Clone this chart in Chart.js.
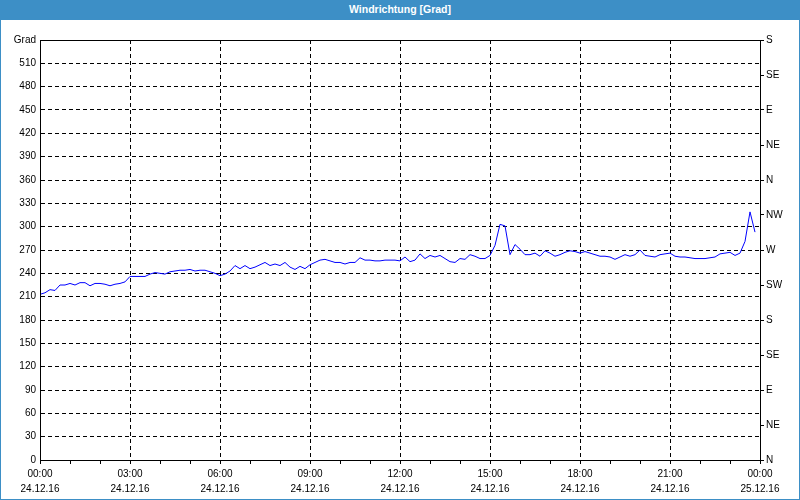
<!DOCTYPE html>
<html>
<head>
<meta charset="utf-8">
<script src="https://cdn.jsdelivr.net/npm/chart.js@4/dist/chart.umd.min.js"></script>
<style>
  html, body { margin: 0; padding: 0; background: #fff; }
  #wrap { position: relative; width: 800px; height: 500px; box-sizing: border-box;
          border: 1px solid #3d8fc6; border-top: none; }
  #title { position: absolute; left: -1px; top: 0; width: 800px; height: 20px; background: #3d8fc6;
           color: #fff; font: bold 10.5px "Liberation Sans", Arial, sans-serif; line-height: 18px; text-align: center; }
  canvas { position: absolute; left: -1px; top: 0; }
</style>
</head>
<body>
<div id="wrap">
  <canvas id="chart" width="800" height="500"></canvas>
  <div id="title">Windrichtung [Grad]</div>
</div>
<script>
// wind direction in degrees, one value every 10 minutes from 00:00 to 23:50
const stepMinutes = 10
const direction = [
  213, 215, 219, 218, 225, 225, 227, 225, 228, 228, 224, 227,
  227, 226, 224, 226, 227, 229, 236, 236, 236, 236, 239, 241,
  240, 239, 242, 243, 244, 244, 245, 243, 244, 244, 242, 240,
  237, 239, 243, 250, 246, 250, 246, 248, 251, 254, 250, 252,
  250, 254, 248, 245, 249, 246, 251, 254, 257, 258, 256, 254,
  254, 252, 254, 254, 260, 257, 257, 256, 256, 257, 257, 257,
  256, 261, 255, 257, 265, 259, 263, 261, 263, 259, 255, 254,
  259, 258, 264, 262, 259, 259, 263, 276, 303, 301, 264, 277,
  271, 264, 264, 266, 262, 269, 266, 262, 264, 267, 269, 268,
  266, 268, 266, 264, 262, 262, 261, 258, 261, 264, 262, 264,
  270, 263, 262, 261, 264, 265, 266, 262, 261, 261, 260, 259,
  259, 259, 260, 261, 265, 266, 267, 263, 266, 281, 319, 293
]

const timeLabels = ['00:00', '03:00', '06:00', '09:00', '12:00', '15:00', '18:00', '21:00', '00:00']
const dateLabels = ['24.12.16', '24.12.16', '24.12.16', '24.12.16', '24.12.16', '24.12.16', '24.12.16', '24.12.16', '25.12.16']
const compassLabels = ['N', 'NE', 'E', 'SE', 'S', 'SW', 'W', 'NW', 'N', 'NE', 'E', 'SE', 'S']

const points = direction.map((v, i) => ({ x: i * stepMinutes / 60, y: v }))

Chart.defaults.font.family = '"Liberation Sans", Arial, sans-serif'
Chart.defaults.font.size = 10
Chart.defaults.color = '#000'

const frame = {
  id: 'frame',
  afterDraw(chart) {
    const a = chart.chartArea
    const ctx = chart.ctx
    ctx.save()
    ctx.strokeStyle = '#000'
    ctx.lineWidth = 1
    ctx.strokeRect(a.left + 0.5, a.top + 0.5, a.right - a.left, a.bottom - a.top)
    ctx.restore()
  }
}

const canvasChart = document.getElementById('chart')

const myChart = new Chart(canvasChart, {
  type: 'line',
  data: {
    datasets: [{
      label: 'Windrichtung',
      data: points,
      borderColor: '#0000ff',
      borderWidth: 1,
      pointRadius: 0,
      tension: 0,
      yAxisID: 'y'
    }]
  },
  options: {
    responsive: false,
    animation: false,
    layout: { padding: { top: 40, left: 0, right: 0, bottom: 0 } },
    plugins: { legend: { display: false }, tooltip: { enabled: false } },
    scales: {
      x: {
        type: 'linear',
        min: 0,
        max: 24,
        afterFit(scale) { scale.height = 40 },
        border: { color: '#000', width: 1, dash: [4, 3] },
        grid: {
          color: c => (c.tick && c.tick.value % 3 === 0 && c.tick.value > 0 && c.tick.value < 24) ? '#000' : 'transparent',
          tickColor: '#000',
          tickLength: 4,
          tickBorderDash: []
        },
        ticks: {
          stepSize: 1,
          autoSkip: false,
          maxRotation: 0,
          padding: 2,
          font: { lineHeight: 1.55 },
          callback: v => v % 3 === 0 ? [timeLabels[v / 3], dateLabels[v / 3]] : ''
        }
      },
      y: {
        position: 'left',
        min: 0,
        max: 540,
        afterFit(scale) { scale.width = 40 },
        border: { color: '#000', width: 1, dash: [4, 3] },
        grid: {
          color: c => (c.tick && c.tick.value > 0 && c.tick.value < 540) ? '#000' : 'transparent',
          drawTicks: false
        },
        ticks: {
          stepSize: 30,
          padding: 4,
          callback: v => v === 540 ? 'Grad' : v
        }
      },
      y2: {
        position: 'right',
        min: 0,
        max: 540,
        afterFit(scale) { scale.width = 40 },
        border: { color: '#000', width: 1 },
        grid: { drawOnChartArea: false, tickColor: '#000', tickLength: 4 },
        ticks: {
          stepSize: 45,
          padding: 2,
          callback: v => compassLabels[v / 45]
        }
      }
    }
  },
  plugins: [frame]
})
</script>
</body>
</html>
